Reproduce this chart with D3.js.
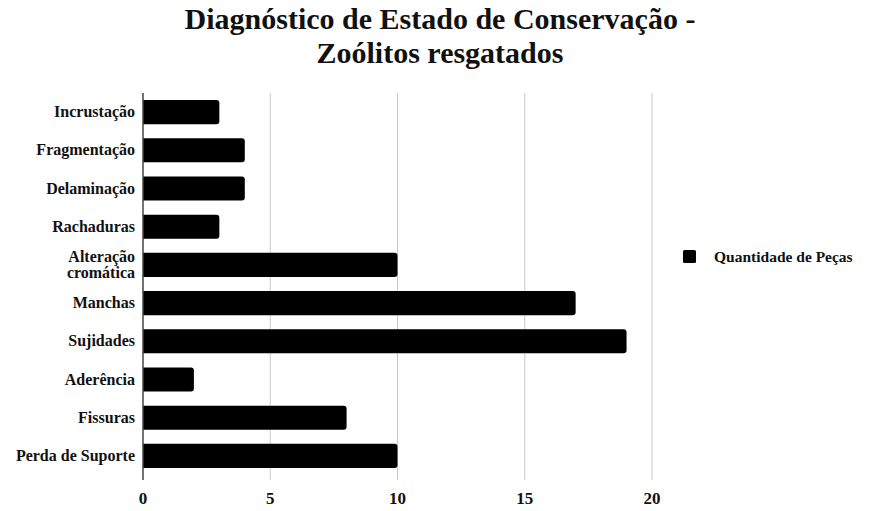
<!DOCTYPE html>
<html>
<head>
<meta charset="utf-8">
<script src="https://cdn.jsdelivr.net/npm/d3@7"></script>
<style>
  body { margin: 0; background: #fff; }
  text { font-family: "Liberation Serif", "DejaVu Serif", serif; font-weight: bold; fill: #111; }
</style>
</head>
<body>
<svg id="chart" width="880" height="511"></svg>
<script>
var categories = ["Incrustação", "Fragmentação", "Delaminação", "Rachaduras", "Alteração\ncromática",
    "Manchas", "Sujidades", "Aderência", "Fissuras", "Perda de Suporte"];
var quantidade = [3, 4, 4, 3, 10, 17, 19, 2, 8, 10];
var xTicks = [0, 5, 10, 15, 20];
var seriesName = "Quantidade de Peças";

var svg = d3.select("#chart"),
    plotLeft = 143,
    plotRight = 652,
    plotTop = 93,
    plotBottom = 475;

var x = d3.scaleLinear().domain([0, 20]).range([plotLeft, plotRight]);
var y = d3.scaleBand().domain(categories).range([plotTop, plotBottom]).paddingInner(0.37).paddingOuter(0.185);

// title
svg.append("text").attr("x", 440).attr("y", 29).attr("text-anchor", "middle")
    .style("font-size", "30px").text("Diagnóstico de Estado de Conservação -");
svg.append("text").attr("x", 440).attr("y", 63).attr("text-anchor", "middle")
    .style("font-size", "30px").text("Zoólitos resgatados");

// grid
svg.append("g").selectAll("line").data(xTicks.slice(1)).enter().append("line")
    .attr("x1", d => x(d)).attr("x2", d => x(d))
    .attr("y1", plotTop).attr("y2", plotBottom + 5)
    .attr("stroke", "#c8c8c8").attr("stroke-width", 1);

// bars with rounded right end
function barPath(d, i) {
    var x0 = x(0), x1 = x(d), y0 = y(categories[i]), h = y.bandwidth(), r = 3;
    return "M" + x0 + "," + y0 + "H" + (x1 - r) + "Q" + x1 + "," + y0 + " " + x1 + "," + (y0 + r) +
        "V" + (y0 + h - r) + "Q" + x1 + "," + (y0 + h) + " " + (x1 - r) + "," + (y0 + h) + "H" + x0 + "Z";
}
svg.append("g").selectAll("path").data(quantidade).enter().append("path")
    .attr("d", barPath).attr("fill", "#000");

// axis line
svg.append("line").attr("x1", plotLeft).attr("x2", plotLeft).attr("y1", plotTop).attr("y2", plotBottom + 5)
    .attr("stroke", "#444").attr("stroke-width", 1.5);

// x tick labels
svg.append("g").selectAll("text").data(xTicks).enter().append("text")
    .attr("x", d => x(d)).attr("y", 504).attr("text-anchor", "middle")
    .style("font-size", "17px").text(d => d);

// category labels
var labels = svg.append("g").selectAll("text").data(categories).enter().append("text")
    .attr("text-anchor", "end").style("font-size", "16px");
labels.each(function(d) {
    var lines = d.split("\n"), t = d3.select(this), cy = y(d) + y.bandwidth() / 2;
    lines.forEach(function(l, k) {
        t.append("tspan").attr("x", 135)
            .attr("y", cy + 5 + (k - (lines.length - 1) / 2) * 16).text(l);
    });
});

// legend
svg.append("rect").attr("x", 683).attr("y", 250).attr("width", 13).attr("height", 13)
    .attr("rx", 1.5).attr("fill", "#000");
svg.append("text").attr("x", 714).attr("y", 262).style("font-size", "15.5px").text(seriesName);
</script>
</body>
</html>
